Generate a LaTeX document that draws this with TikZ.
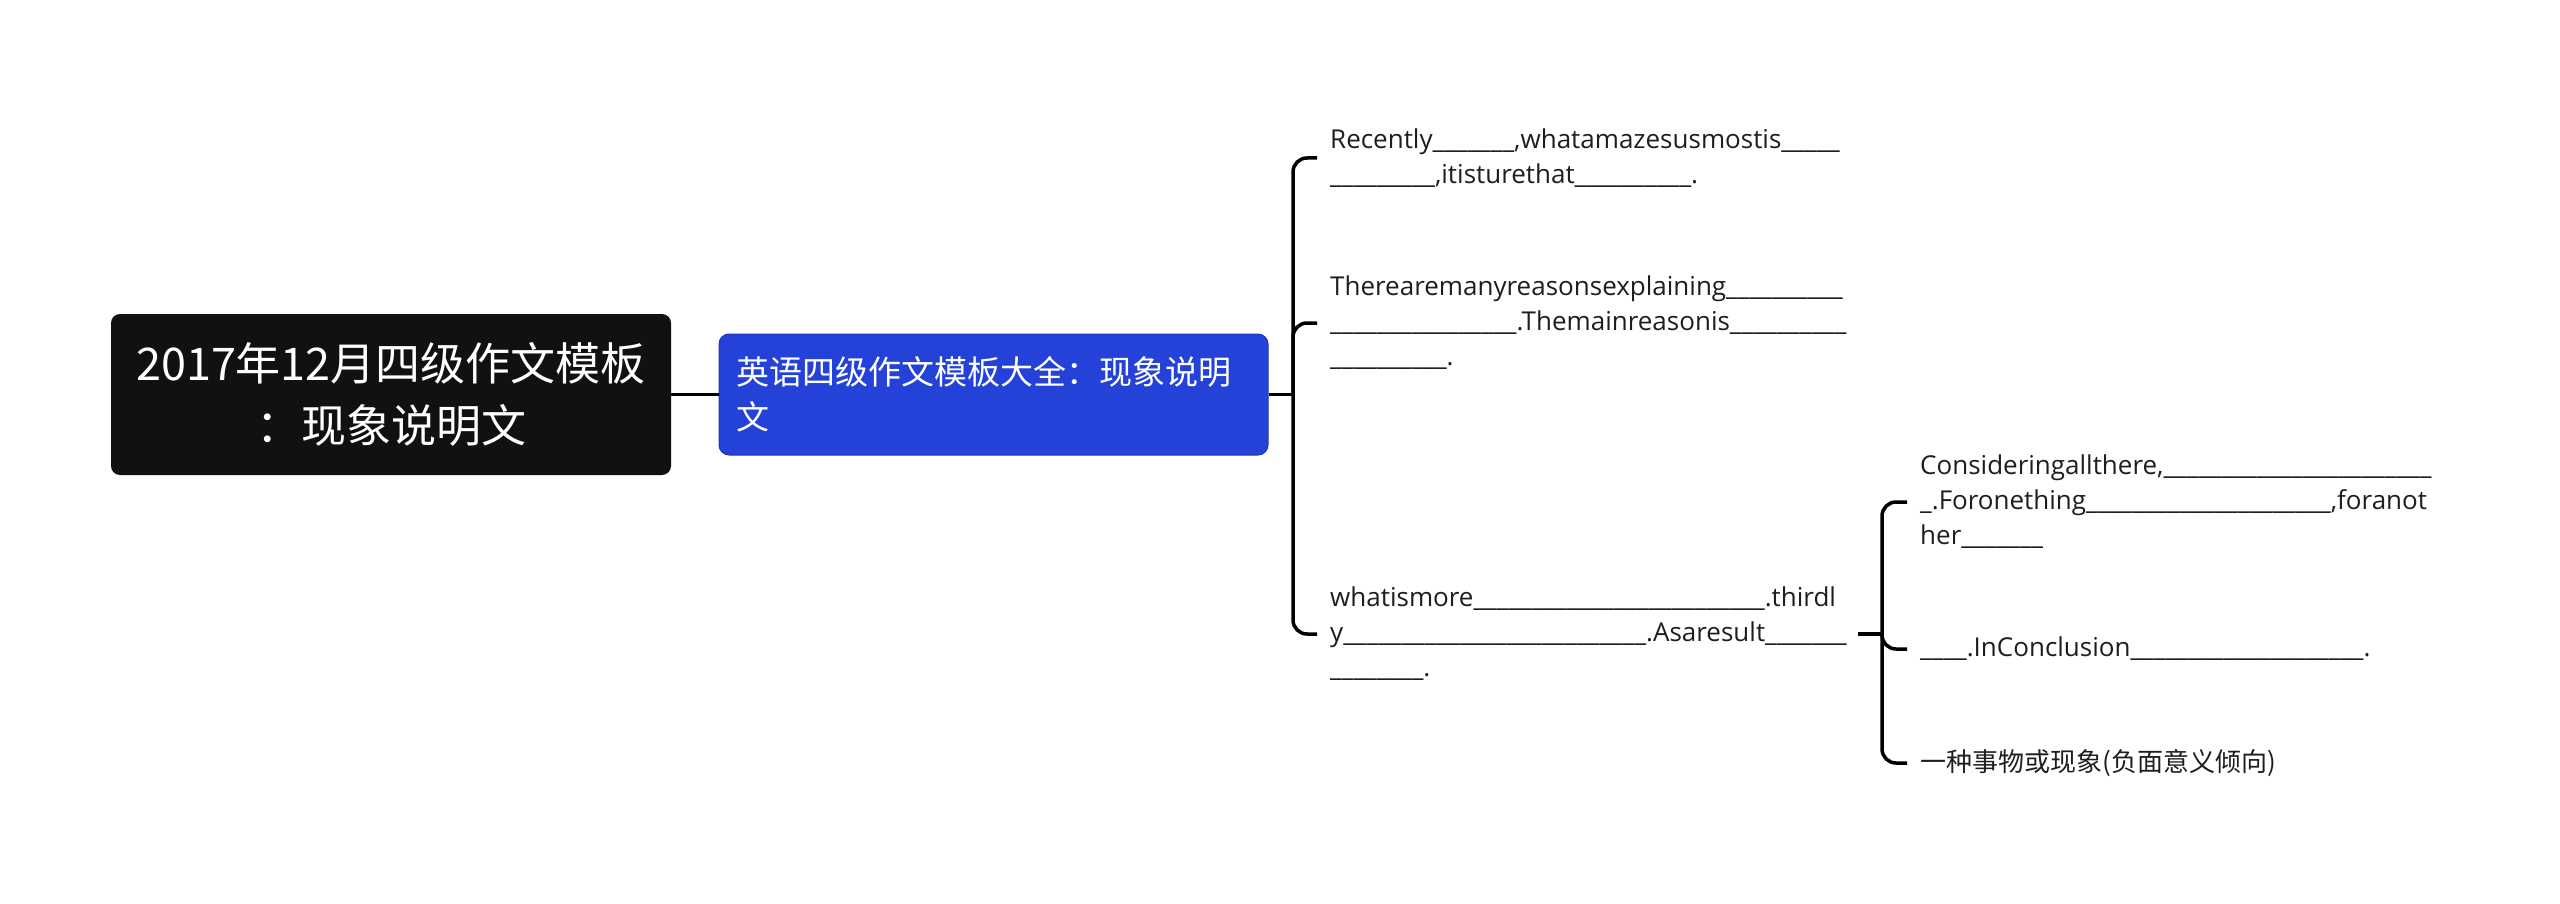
\documentclass[tikz,border=0pt]{standalone}
\usepackage{fontspec}
\setmainfont{Open Sans}
\newfontfamily\cjkfont{Noto Sans CJK SC}
\ExplSyntaxOn
\cs_new:Npn \blanks #1 { \prg_replicate:nn {#1} {\_} }
\ExplSyntaxOff
\definecolor{rootblack}{HTML}{111111}
\definecolor{topicblue}{HTML}{2441D8}
\definecolor{leaftext}{HTML}{1E1E1E}
\begin{document}
\begin{tikzpicture}[x=1pt,y=-1pt,
  conn/.style={line width=3.5pt, draw=black, rounded corners=14pt},
  leaf/.style={anchor=west, inner xsep=13pt, inner ysep=0pt, text width=515pt, align=left,
    font=\fontsize{26}{35}\selectfont, text=leaftext},
  cjkleaf/.style={leaf, font=\cjkfont\fontsize{26}{35}\selectfont},
]
\path[use as bounding box] (0,0) rectangle (2560,904);

\node[fill=rootblack, rounded corners=9pt, minimum width=560pt, minimum height=161pt,
  inner sep=0pt, text=white, align=center, font=\cjkfont\fontsize{45}{62}\selectfont]
  (root) at (391,394.5) {2017年12月四级作文模板\\：现象说明文};

\node[fill=topicblue, draw=topicblue!85!black, line width=1pt, rounded corners=10pt,
  minimum width=549pt, minimum height=121pt, inner xsep=17pt, inner ysep=0pt,
  text width=515pt, align=left, text=white, font=\cjkfont\fontsize{33}{45}\selectfont]
  (topic) at (993.5,394.5) {英语四级作文模板大全：现象说明\\文};

\node[leaf] (n1) at (1317,158) {Recently\blanks{7},whatamazesusmostis\blanks{5}\\\blanks{9},itisturethat\blanks{10}.};
\node[leaf] (n2) at (1317,323) {Therearemanyreasonsexplaining\blanks{10}\\\blanks{16}.Themainreasonis\blanks{10}\\\blanks{10}.};
\node[leaf] (n3) at (1317,634) {whatismore\blanks{25}.thirdl\\y\blanks{26}.Asaresult\blanks{7}\\\blanks{8}.};

\node[leaf] (c1) at (1907,502) {Consideringallthere,\blanks{23}\\\_.Foronething\blanks{21},foranot\\her\blanks{7}};
\node[leaf] (c2) at (1907,649) {\blanks{4}.InConclusion\blanks{20}.};
\node[cjkleaf] (c3) at (1907,763) {一种事物或现象(负面意义倾向)};

\coordinate (j1) at (1293,394.5);
\coordinate (j2) at (1882,634);

\draw[conn] (root.east) -- (topic.west);
\draw[conn] (topic.east) -- (j1);
\foreach \n in {n1,n2,n3} \draw[conn] (j1) |- (\n.west);
\draw[conn] (n3.east) -- (j2);
\foreach \c in {c1,c2,c3} \draw[conn] (j2) |- (\c.west);
\end{tikzpicture}
\end{document}
